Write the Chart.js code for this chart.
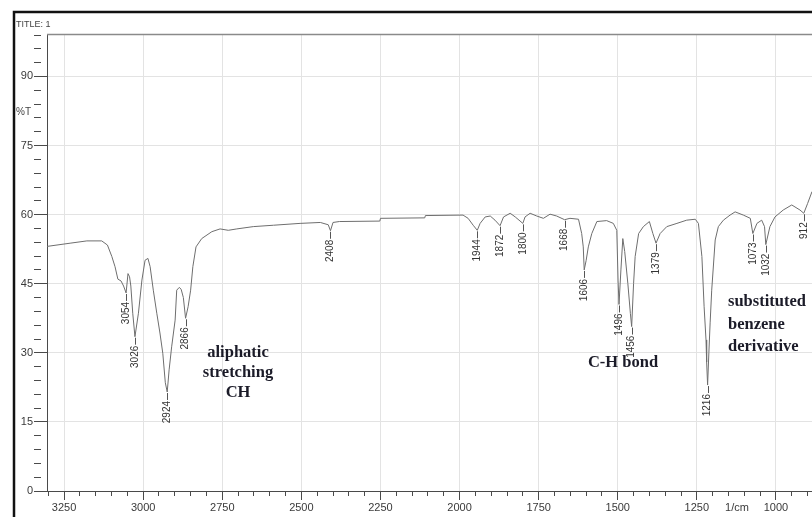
<!DOCTYPE html>
<html>
<head>
<meta charset="utf-8">
<script src="https://cdn.jsdelivr.net/npm/chart.js@4.4.1/dist/chart.umd.min.js"></script>
<style>
  html, body { margin: 0; padding: 0; background: #fff; overflow: hidden; }
  #wrap { position: relative; width: 812px; height: 517px; }
</style>
</head>
<body>
<div id="wrap"><canvas id="irChart" width="812" height="517"></canvas></div>
<script>
// ---- SPECTRUM DATA (wavenumber 1/cm, %T) ----
const wavenumbers = [
  3304, 3231, 3178, 3131, 3113, 3099, 3089, 3080, 3070, 3062,
  3054, 3048, 3043, 3039, 3033, 3026, 3015, 3004, 2994, 2985,
  2978, 2968, 2957, 2947, 2938, 2930, 2924, 2918, 2910, 2899,
  2894, 2886, 2880, 2873, 2866, 2858, 2850, 2843, 2833, 2815,
  2783, 2757, 2731, 2704, 2652, 2588, 2504, 2440, 2415, 2408,
  2400, 2380, 2252, 2250, 2110, 2108, 1989, 1973, 1957, 1944,
  1935, 1919, 1903, 1888, 1872, 1861, 1840, 1824, 1800, 1793,
  1777, 1756, 1735, 1714, 1693, 1668, 1651, 1624, 1614, 1609,
  1606, 1600, 1593, 1582, 1566, 1535, 1514, 1503, 1499, 1496,
  1490, 1484, 1478, 1468, 1460, 1456, 1450, 1445, 1434, 1419,
  1400, 1389, 1379, 1366, 1345, 1313, 1282, 1255, 1245, 1234,
  1227, 1221, 1219, 1216, 1212, 1208, 1203, 1192, 1182, 1166,
  1145, 1129, 1103, 1081, 1073, 1060, 1045, 1036, 1032, 1019,
  1003, 977, 950, 924, 912, 900, 886
];
const transmittance = [
  53.1, 53.8, 54.3, 54.3, 53.4, 50.9, 48.7, 46.0, 45.6, 44.5,
  43.0, 47.2, 46.5, 44.5, 38.6, 33.5, 38.6, 45.8, 50.1, 50.5,
  48.7, 43.6, 38.6, 34.3, 29.9, 23.5, 21.5, 26.3, 31.3, 37.1,
  43.6, 44.2, 43.8, 42.0, 37.5, 40.0, 43.6, 48.7, 53.0, 54.8,
  56.3, 56.9, 56.6, 56.9, 57.4, 57.7, 58.1, 58.3, 57.8, 56.5,
  58.3, 58.5, 58.6, 59.2, 59.3, 59.8, 59.9, 59.2, 57.7, 56.6,
  58.1, 59.5, 59.7, 58.8, 57.6, 59.5, 60.3, 59.5, 58.1, 59.5,
  60.3, 59.7, 59.2, 60.1, 59.7, 58.9, 59.2, 59.0, 55.9, 53.0,
  48.0, 50.0, 53.0, 55.9, 58.5, 58.7, 58.1, 56.6, 45.8, 40.5,
  48.0, 54.8, 52.0, 45.0, 38.5, 35.7, 45.0, 50.9, 55.9, 57.4,
  58.5, 55.9, 53.8, 55.9, 57.4, 58.1, 58.8, 59.0, 58.1, 50.9,
  40.0, 32.8, 28.0, 23.0, 30.0, 36.5, 43.6, 54.5, 57.4, 58.8,
  59.9, 60.6, 59.9, 59.2, 55.9, 58.1, 58.8, 57.4, 53.5, 57.4,
  59.5, 61.0, 62.1, 61.0, 60.3, 62.4, 65.0
];

// ---- PEAK LABELS ----
const peakWavenumbers = [3054, 3026, 2924, 2866, 2408, 1944, 1872, 1800, 1668, 1606, 1496, 1456, 1379, 1216, 1073, 1032, 912];
const peakLabels = peakWavenumbers.map(w => String(w));

// ---- AXES ----
const xRange = [886, 3304];
const yRange = [0, 99];
const xMajorStep = 250;
const yMajorStep = 15;

// ---- ANNOTATIONS ----
const notes = [
  { lines: ["aliphatic", "stretching", "CH"], x: 238, y: 353, gap: 20, align: "center" },
  { lines: ["C-H bond"], x: 623, y: 363, gap: 20, align: "center" },
  { lines: ["substituted", "benzene", "derivative"], x: 728, y: 302, gap: 22.5, align: "left" }
];

const axisColor = "#4a4a4a";
const gridColor = "#e3e3e3";
const tickFont = { family: "'Liberation Sans', Arial, sans-serif", size: 11 };

// extra drawing: frame, titles, peak labels, notes
const decorPlugin = {
  id: "decor",
  afterDatasetsDraw(chart) {
    const c = chart.ctx;
    const xs = chart.scales.x;
    const ys = chart.scales.y;
    const area = chart.chartArea;
    c.save();

    // outer frame
    c.strokeStyle = "#111";
    c.lineWidth = 2.5;
    c.beginPath();
    c.moveTo(14, 517);
    c.lineTo(14, 12);
    c.lineTo(812, 12);
    c.stroke();

    // top line of plot area
    c.strokeStyle = "#8a8a8a";
    c.lineWidth = 1.5;
    c.beginPath();
    c.moveTo(area.left, area.top - 0.5);
    c.lineTo(area.right, area.top - 0.5);
    c.stroke();

    c.fillStyle = "#444";
    c.font = "9px 'Liberation Sans', Arial, sans-serif";
    c.textAlign = "left";
    c.textBaseline = "middle";
    c.fillText("TITLE: 1", 16, 25);

    c.font = "10px 'Liberation Sans', Arial, sans-serif";
    c.fillText("%T", 16, 112);

    c.fillStyle = "#3a3a3a";
    c.font = "11px 'Liberation Sans', Arial, sans-serif";
    c.textAlign = "center";
    c.textBaseline = "top";
    c.fillText("1/cm", 737, 502);

    // peak labels below each peak
    c.strokeStyle = "#555";
    c.lineWidth = 1;
    c.fillStyle = "#333";
    c.font = "10px 'Liberation Sans', Arial, sans-serif";
    for (let i = 0; i < peakWavenumbers.length; i++) {
      const k = wavenumbers.indexOf(peakWavenumbers[i]);
      if (k < 0) continue;
      const px = xs.getPixelForValue(peakWavenumbers[i]);
      const py = ys.getPixelForValue(transmittance[k]);
      c.beginPath();
      c.moveTo(Math.round(px) + 0.5, py + 1);
      c.lineTo(Math.round(px) + 0.5, py + 8);
      c.stroke();
      c.save();
      c.translate(px, py + 9);
      c.rotate(-Math.PI / 2);
      c.textAlign = "right";
      c.textBaseline = "middle";
      c.fillText(peakLabels[i], 0, 0);
      c.restore();
    }

    // text notes
    c.fillStyle = "#1b1b28";
    c.font = "bold 16.5px 'Liberation Serif', 'Times New Roman', serif";
    c.textBaseline = "middle";
    for (const n of notes) {
      c.textAlign = n.align;
      n.lines.forEach((t, j) => c.fillText(t, n.x, n.y + j * n.gap));
    }
    c.restore();
  }
};

const isMajor = (v, step) => Math.abs(v % step) < 1e-6;

const ctx = document.getElementById("irChart").getContext("2d");
new Chart(ctx, {
  type: "line",
  data: {
    datasets: [{
      data: wavenumbers.map((w, i) => ({ x: w, y: transmittance[i] })),
      borderColor: "#6e6e6e",
      borderWidth: 1,
      pointRadius: 0,
      tension: 0,
      fill: false
    }]
  },
  options: {
    responsive: false,
    animation: false,
    layout: { padding: { left: 0, top: 35, right: 0, bottom: 0 } },
    plugins: { legend: { display: false }, tooltip: { enabled: false } },
    scales: {
      x: {
        type: "linear",
        reverse: true,
        min: xRange[0],
        max: xRange[1],
        afterFit: s => { s.height = 26; },
        border: { color: axisColor, width: 1 },
        grid: {
          color: c => isMajor(c.tick.value, xMajorStep) ? gridColor : "rgba(0,0,0,0)",
          borderDash: [2, 3],
          tickColor: axisColor,
          tickLength: 9,
          tickBorderDash: c => isMajor(c.tick.value, xMajorStep) ? [] : [4, 40]
        },
        ticks: {
          stepSize: 50,
          includeBounds: false,
          autoSkip: false,
          maxRotation: 0,
          padding: 1,
          color: "#3a3a3a",
          font: tickFont,
          callback: v => isMajor(v, xMajorStep) ? String(v) : ""
        }
      },
      y: {
        min: yRange[0],
        max: yRange[1],
        afterFit: s => { s.width = 47; },
        border: { color: axisColor, width: 1 },
        grid: {
          color: c => (isMajor(c.tick.value, yMajorStep) && c.tick.value > 0) ? gridColor : "rgba(0,0,0,0)",
          borderDash: [2, 3],
          tickColor: axisColor,
          tickLength: 13,
          tickBorderDash: c => isMajor(c.tick.value, yMajorStep) ? [] : [7, 40]
        },
        ticks: {
          stepSize: 3,
          includeBounds: false,
          autoSkip: false,
          padding: 1,
          color: "#3a3a3a",
          font: tickFont,
          callback: v => isMajor(v, yMajorStep) ? String(v) : ""
        }
      }
    }
  },
  plugins: [decorPlugin]
});
</script>
</body>
</html>
